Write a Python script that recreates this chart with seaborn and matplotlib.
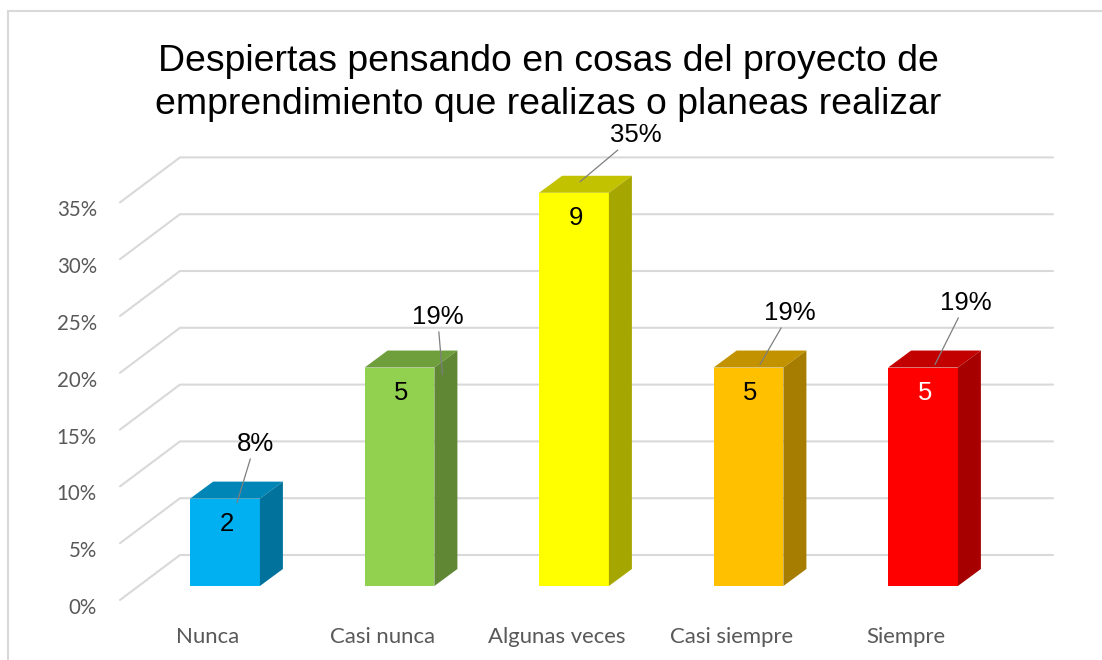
import matplotlib.colors as mcolors
import matplotlib.pyplot as plt
import matplotlib.transforms as mtransforms
import pandas as pd
import seaborn as sns
from matplotlib.lines import Line2D
from matplotlib.patches import Polygon

categorias = ["Nunca", "Casi nunca", "Algunas veces", "Casi siempre", "Siempre"]
frecuencias = [2, 5, 9, 5, 5]
etiquetas_pct = ["8%", "19%", "35%", "19%", "19%"]
ticks_pct = [0, 5, 10, 15, 20, 25, 30, 35]

colores = ["#00B0F0", "#92D050", "#FFFF00", "#FFC000", "#FF0000"]
color_num = ["black", "black", "black", "black", "white"]

# desplazamientos (pixeles) de las etiquetas de porcentaje, puestas a mano
ancla_dx = [12, 43, 6, 11.5, 12]
ancla_dy = [-4, -7, 11, 3, 3]
texto_dx = [18, -5, 56, 30, 31]
texto_dy = [59, 58, 47, 52, 62]

PX_X = 174.5   # pixeles por categoria
PX_Y = 11.36   # pixeles por punto porcentual
GRIS = "#D9D9D9"
GRIS_TXT = "#595959"


def sombra(color, f):
    r, g, b = mcolors.to_rgb(color)
    return (r * f, g * f, b * f)


def main():
    sns.set_style("white")
    plt.rcParams["font.family"] = ["Liberation Sans", "DejaVu Sans"]
    plt.rcParams["text.color"] = "black"

    total = sum(frecuencias)
    df = pd.DataFrame({
        "categoria": categorias,
        "porcentaje": [f / total * 100 for f in frecuencias],
    })

    fig = plt.figure(figsize=(11.02, 6.6), dpi=100)
    ax = fig.add_axes([0, 0, 1, 1])
    sns.barplot(
        data=df, x="categoria", y="porcentaje", hue="categoria",
        palette=colores, width=0.4, saturation=1, legend=False,
        linewidth=0, ax=ax, zorder=2,
    )
    ax.set_xlim(-225 / PX_X, (1102 - 225) / PX_X)
    ax.set_ylim(-(660 - 586) / PX_Y, 586 / PX_Y)
    ax.axis("off")

    # paredes con lineas de division (efecto 3D)
    x_frente, x_fondo, x_fin = -105 / PX_X, -45 / PX_X, 828 / PX_X
    dy_fondo, dy_frente = 31 / PX_Y, -14 / PX_Y
    for v in ticks_pct:
        ax.plot([x_frente, x_fondo, x_fin],
                [v + dy_frente, v + dy_fondo, v + dy_fondo],
                color=GRIS, lw=1.5, zorder=0.5)
        ax.text(x_frente - 23 / PX_X, v + dy_frente - 8 / PX_Y, f"{v}%",
                ha="right", va="center", fontsize=14.8, color=GRIS_TXT,
                family="Lato")

    # caras superior y lateral de cada barra
    prof_x, prof_y = 23 / PX_X, 17 / PX_Y
    barras = sorted(ax.patches, key=lambda p: p.get_x())
    for bar, color in zip(barras, colores):
        x0, w, h = bar.get_x(), bar.get_width(), bar.get_height()
        x1 = x0 + w
        ax.add_patch(Polygon(
            [(x0, h), (x0 + prof_x, h + prof_y), (x1 + prof_x, h + prof_y), (x1, h)],
            closed=True, facecolor=sombra(color, 0.76), edgecolor="none", zorder=2))
        ax.add_patch(Polygon(
            [(x1, 0), (x1 + prof_x, prof_y), (x1 + prof_x, h + prof_y), (x1, h)],
            closed=True, facecolor=sombra(color, 0.65), edgecolor="none", zorder=2))

    for i, (h, txt, num) in enumerate(zip(df["porcentaje"], etiquetas_pct, frecuencias)):
        ancla = mtransforms.offset_copy(ax.transData, fig=fig,
                                        x=ancla_dx[i], y=ancla_dy[i], units="dots")
        ax.annotate(txt, xy=(i, h), xycoords=ancla,
                    xytext=(texto_dx[i], texto_dy[i]), textcoords="offset pixels",
                    ha="center", va="center", fontsize=18.5, color="black",
                    zorder=4,
                    arrowprops=dict(arrowstyle="-", color="#7F7F7F", lw=0.9,
                                    shrinkA=0, shrinkB=0))
        ax.annotate(str(num), xy=(i, h), xytext=(2, -25), textcoords="offset pixels",
                    ha="center", va="center", fontsize=18.5, color=color_num[i],
                    zorder=4)
        ax.text(i - 17 / PX_X, -51 / PX_Y, categorias[i], ha="center", va="center",
                fontsize=15.9, color=GRIS_TXT, family="Lato")

    fig.text(548 / 1102, 1 - 83 / 660,
             "Despiertas pensando en cosas del proyecto de\n"
             "emprendimiento que realizas o planeas realizar",
             ha="center", va="center", fontsize=26.9, linespacing=1.27,
             color="black")

    # marco del grafico
    fig.add_artist(Line2D([8 / 1102, 1], [649 / 660, 649 / 660],
                          transform=fig.transFigure, color=GRIS, lw=1.5))
    fig.add_artist(Line2D([8 / 1102, 8 / 1102], [0, 649 / 660],
                          transform=fig.transFigure, color=GRIS, lw=1.5))

    fig.savefig("out.png", dpi=100)
    plt.close(fig)


if __name__ == "__main__":
    main()
